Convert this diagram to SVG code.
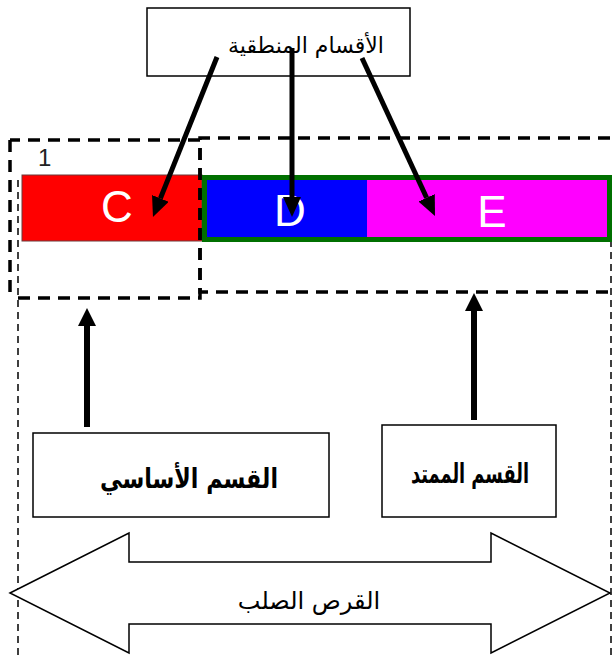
<svg xmlns="http://www.w3.org/2000/svg" width="615" height="655" viewBox="0 0 615 655">
<style>
.box{fill:#fff;stroke:#000;stroke-width:1.5}
.thick{fill:none;stroke:#000;stroke-width:3.5;stroke-dasharray:12 8}
.thin{fill:none;stroke:#000;stroke-width:1.5;stroke-dasharray:7 5}
.ar{font-family:"DejaVu Sans","Noto Sans",sans-serif;fill:#000;text-anchor:middle}
.big{font-weight:bold;font-size:27px}
.letter{font-family:"Liberation Sans",Arial,sans-serif;font-size:44px;fill:#fff;text-anchor:middle}
.conn{stroke:#000;stroke-width:5;fill:none}
.conn2{stroke:#000;stroke-width:6;fill:none}
</style>
<defs>
<marker id="ah" markerUnits="userSpaceOnUse" markerWidth="20" markerHeight="18" refX="0" refY="9" orient="auto">
<path d="M0,0 L20,9 L0,18 z" fill="#000"/>
</marker>
<marker id="ah2" markerUnits="userSpaceOnUse" markerWidth="18" markerHeight="18" refX="0" refY="9" orient="auto">
<path d="M0,0 L18,9 L0,18 z" fill="#000"/>
</marker>
</defs>
<g id="guides">
<line class="thin" x1="18" y1="180" x2="18" y2="655"/>
<line class="thin" x1="611" y1="180" x2="611" y2="655"/>
</g>
<g id="partition-bar">
<rect x="22" y="175" width="180" height="66" fill="#ff0000" stroke="#6a3a3a" stroke-width="1"/>
<rect x="204.5" y="177.5" width="405" height="62" fill="#0000ff" stroke="#007000" stroke-width="5"/>
<rect x="367" y="180" width="240" height="57" fill="#ff00ff"/>
<text class="letter" x="117" y="222">C</text>
<text class="letter" x="290" y="226">D</text>
<text class="letter" x="492" y="227">E</text>
<text x="38" y="166" font-family="Liberation Sans,Arial,sans-serif" font-size="24" fill="#222">1</text>
</g>
<g id="primary-region">
<path class="thick" d="M10,140 L10,296 M18,298 L200,298 L200,140 L10,140"/>
</g>
<g id="extended-region">
<path class="thick" d="M630,138 L200,138 L200,292 L630,292"/>
</g>
<g id="logical">
<rect class="box" x="147" y="8" width="263" height="68"/>
<text class="ar" x="306" y="53" font-size="22">الأقسام المنطقية</text>
</g>
<g id="primary">
<rect class="box" x="33" y="433" width="296" height="84"/>
<text class="ar big" x="189" y="488" textLength="178" lengthAdjust="spacingAndGlyphs">القسم الأساسي</text>
</g>
<g id="extended">
<rect class="box" x="382" y="425" width="174" height="92"/>
<text class="ar big" x="470" y="483" textLength="118" lengthAdjust="spacingAndGlyphs">القسم الممتد</text>
</g>
<g id="disk">
<path class="box" d="M10,593 L129,533 L129,562 L491,562 L491,533 L610,593 L491,653 L491,624 L129,624 L129,653 Z"/>
<text class="ar" x="309" y="609" font-size="24">القرص الصلب</text>
</g>
<g id="connectors">
<line class="conn" x1="217" y1="57" x2="160.4" y2="198.4" marker-end="url(#ah)"/>
<line class="conn" x1="292" y1="48" x2="292" y2="197" marker-end="url(#ah)"/>
<line class="conn" x1="362" y1="58" x2="426.6" y2="197.8" marker-end="url(#ah)"/>
<line class="conn2" x1="87" y1="427" x2="87" y2="326" marker-end="url(#ah2)"/>
<line class="conn2" x1="474" y1="420" x2="474" y2="311" marker-end="url(#ah2)"/>
</g>
</svg>
